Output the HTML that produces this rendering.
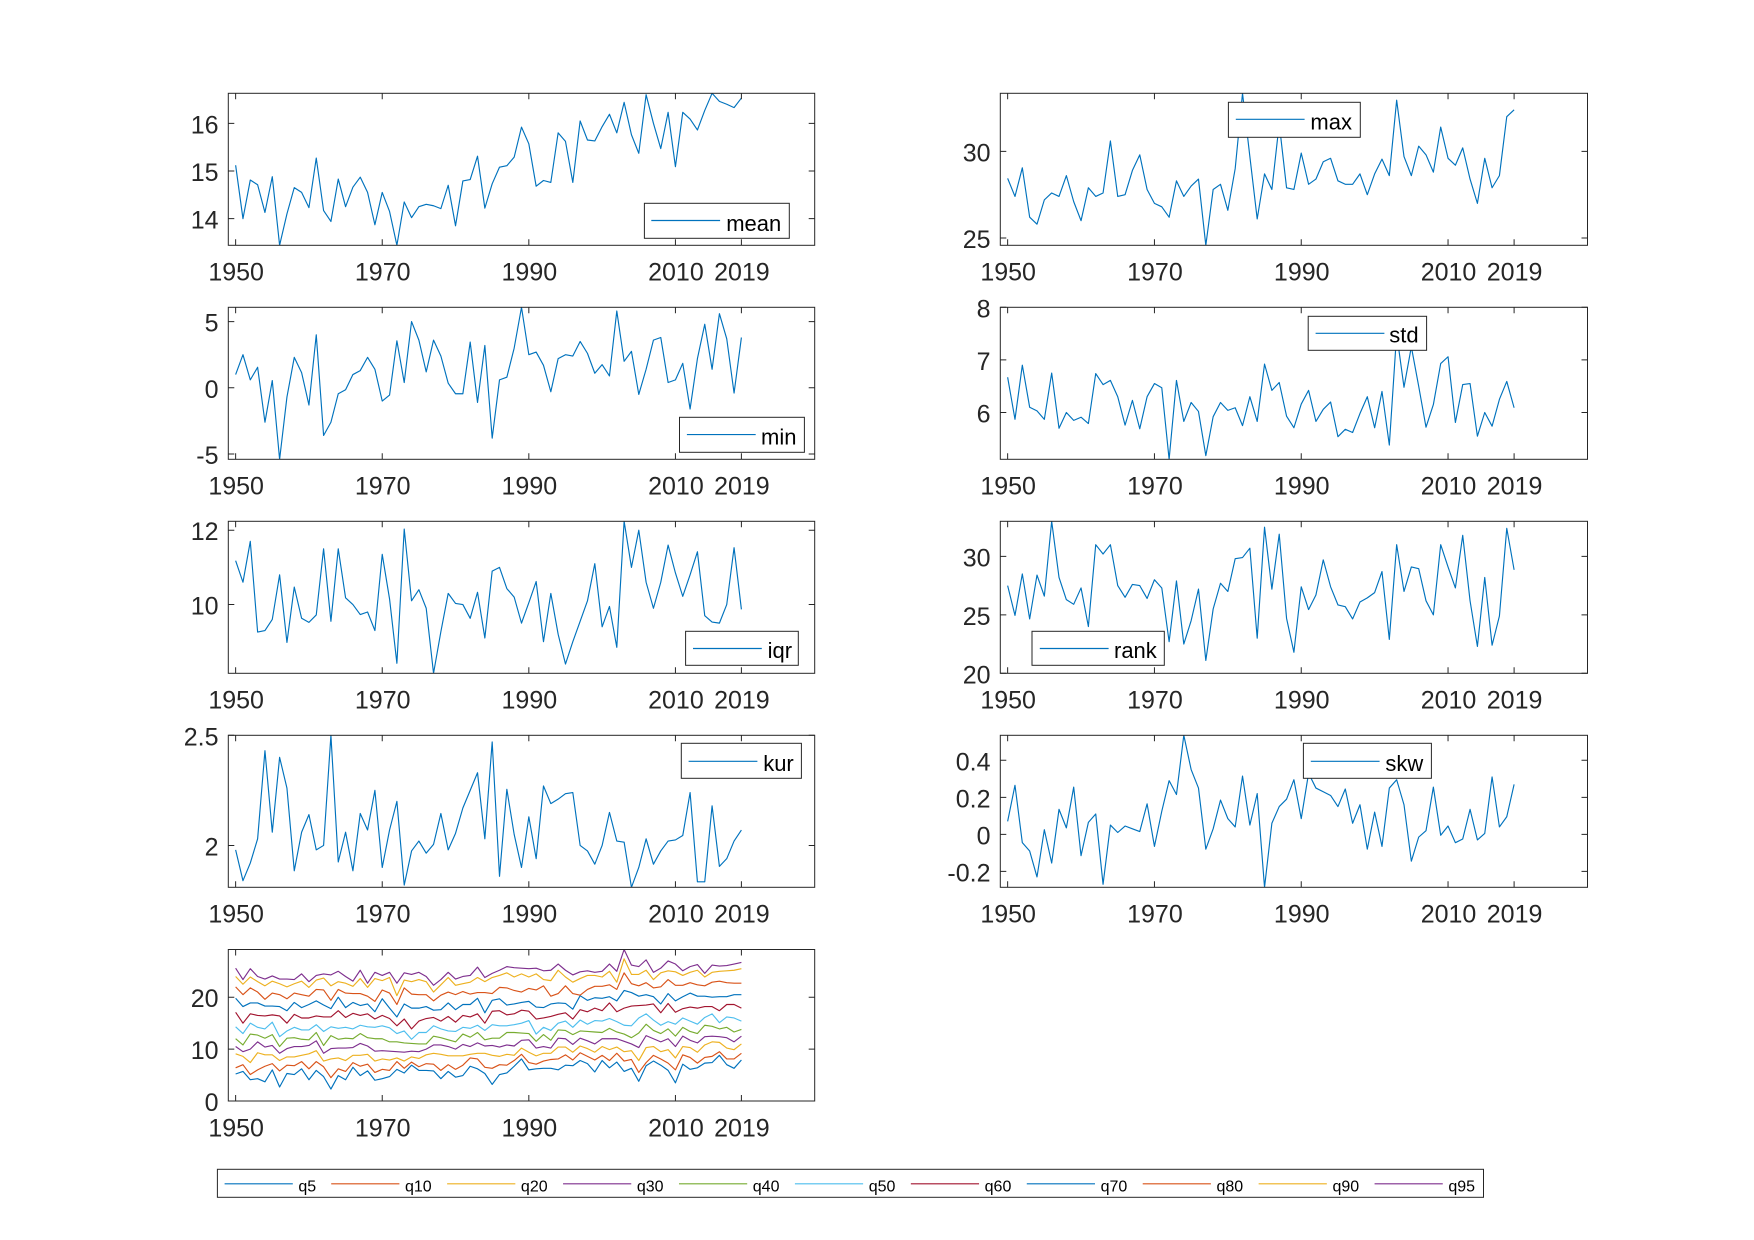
<!DOCTYPE html>
<html lang="en">
<head>
<meta charset="utf-8">
<title>Annual statistics 1950-2019</title>
<style>
html,body{margin:0;padding:0;background:#fff;}
svg{display:block;font-family:"Liberation Sans",Arial,sans-serif;}
</style>
</head>
<body>
<svg id="fig" xmlns="http://www.w3.org/2000/svg" width="1754" height="1240" viewBox="0 0 1754 1240">
<rect x="0" y="0" width="1754" height="1240" fill="#ffffff"/>
</svg>
<script>
const years = [1950,1951,1952,1953,1954,1955,1956,1957,1958,1959,
1960,1961,1962,1963,1964,1965,1966,1967,1968,1969,
1970,1971,1972,1973,1974,1975,1976,1977,1978,1979,
1980,1981,1982,1983,1984,1985,1986,1987,1988,1989,
1990,1991,1992,1993,1994,1995,1996,1997,1998,1999,
2000,2001,2002,2003,2004,2005,2006,2007,2008,2009,
2010,2011,2012,2013,2014,2015,2016,2017,2018,2019];
const xTickYears = [1950,1970,1990,2010,2019];

const meanValues = [15.12,14.0,14.81,14.71,14.13,14.88,13.44,14.1,14.65,14.55,
14.23,15.27,14.17,13.94,14.83,14.25,14.66,14.87,14.55,13.87,
14.55,14.15,13.44,14.35,14.02,14.25,14.3,14.27,14.21,14.7,
13.85,14.79,14.82,15.31,14.22,14.73,15.08,15.11,15.29,15.92,
15.57,14.68,14.8,14.76,15.8,15.62,14.76,16.05,15.65,15.63,
15.93,16.19,15.8,16.44,15.76,15.37,16.6,16.0,15.47,16.23,
15.09,16.23,16.09,15.86,16.27,16.63,16.46,16.4,16.33,16.53];
const maxValues = [28.44,27.4,29.05,26.2,25.8,27.2,27.6,27.4,28.6,27.1,
26.0,27.9,27.4,27.6,30.6,27.4,27.5,28.9,29.8,27.8,
27.0,26.8,26.2,28.3,27.4,28.0,28.4,24.58,27.8,28.1,
26.6,29.0,33.35,29.7,26.1,28.7,27.8,31.6,27.9,27.8,
29.9,28.1,28.4,29.4,29.6,28.3,28.1,28.1,28.7,27.5,
28.7,29.55,28.6,32.95,29.7,28.6,30.3,29.8,28.8,31.4,
29.6,29.2,30.2,28.4,27.0,29.6,27.9,28.6,32.0,32.4];
const minValues = [1.0,2.5,0.6,1.55,-2.6,0.55,-5.4,-0.7,2.3,1.15,
-1.3,4.0,-3.6,-2.6,-0.45,-0.15,1.0,1.3,2.3,1.4,
-1.0,-0.55,3.55,0.4,5.0,3.6,1.2,3.6,2.4,0.35,
-0.45,-0.45,3.45,-1.1,3.2,-3.8,0.6,0.8,3.0,6.08,
2.5,2.7,1.7,-0.3,2.2,2.5,2.4,3.5,2.6,1.1,
1.75,0.9,5.8,2.0,2.75,-0.5,1.4,3.6,3.8,0.4,
0.6,1.85,-1.6,2.2,4.8,1.4,5.6,3.7,-0.4,3.8];
const stdValues = [6.67,5.87,6.9,6.1,6.03,5.87,6.75,5.7,6.0,5.85,
5.91,5.79,6.74,6.53,6.61,6.3,5.76,6.23,5.69,6.3,
6.55,6.47,5.11,6.61,5.83,6.19,6.02,5.18,5.92,6.19,
6.04,6.09,5.75,6.3,5.83,6.92,6.42,6.57,5.93,5.71,
6.16,6.42,5.83,6.06,6.2,5.54,5.68,5.62,5.98,6.3,
5.71,6.4,5.38,7.5,6.48,7.25,6.5,5.72,6.15,6.93,
7.06,5.81,6.53,6.55,5.55,6.0,5.74,6.25,6.59,6.09];
const iqrValues = [11.18,10.6,11.7,9.26,9.3,9.6,10.8,8.98,10.47,9.63,
9.52,9.72,11.5,9.55,11.5,10.18,10.0,9.73,9.8,9.3,
11.35,10.15,8.42,12.03,10.1,10.4,9.9,8.15,9.27,10.3,
10.03,10.0,9.63,10.33,9.1,10.9,11.0,10.43,10.2,9.5,
10.05,10.62,9.0,10.3,9.2,8.4,9.0,9.55,10.1,11.1,
9.4,9.95,8.85,12.24,11.0,12.0,10.6,9.9,10.6,11.6,
10.85,10.22,10.8,11.42,9.7,9.53,9.5,10.0,11.53,9.87];
const rankValues = [27.5,24.95,28.5,24.65,28.4,26.6,33,28.2,26.3,25.9,
27.3,24.0,31,30.2,31,27.5,26.5,27.6,27.5,26.4,
28,27.3,22.7,27.9,22.5,24.5,27.2,21.1,25.5,27.7,
27.0,29.8,29.9,30.7,23,32.5,27.2,31.9,24.7,21.8,
27.4,25.45,26.7,29.7,27.4,25.85,25.7,24.65,26.1,26.45,
26.9,28.7,22.9,31,27.0,29.1,28.95,26.2,25.0,31,
29.1,27.3,31.8,26.2,22.3,28.2,22.4,24.9,32.4,28.85];
const kurValues = [1.98,1.84,1.92,2.03,2.43,2.06,2.40,2.26,1.885,2.06,
2.14,1.98,2.0,2.5,1.925,2.06,1.885,2.145,2.07,2.25,
1.9,2.07,2.2,1.82,1.975,2.02,1.965,2.005,2.145,1.98,
2.055,2.17,2.25,2.33,2.03,2.47,1.86,2.255,2.05,1.9,
2.13,1.94,2.27,2.19,2.21,2.235,2.24,2.0,1.975,1.915,
2.0,2.15,2.02,2.015,1.81,1.9,2.03,1.915,1.975,2.02,
2.025,2.045,2.24,1.835,1.835,2.18,1.905,1.94,2.02,2.07];
const skwValues = [0.07,0.265,-0.045,-0.09,-0.23,0.025,-0.155,0.135,0.035,0.255,
-0.115,0.065,0.11,-0.27,0.05,0.01,0.045,0.03,0.015,0.165,
-0.065,0.125,0.29,0.215,0.535,0.35,0.25,-0.08,0.03,0.185,
0.085,0.04,0.315,0.05,0.22,-0.286,0.06,0.15,0.19,0.295,
0.085,0.33,0.25,0.23,0.21,0.15,0.245,0.06,0.16,-0.08,
0.12,-0.065,0.25,0.295,0.16,-0.145,-0.015,0.02,0.255,-0.005,
0.045,-0.045,-0.025,0.135,-0.03,0.005,0.31,0.04,0.095,0.27];

const q5Values = [5.2,5.7,4.1,4.3,3.7,6.0,2.7,5.3,5.1,6.2,
4.1,5.9,4.7,2.3,4.9,4.1,6.5,4.9,5.8,4.0,
4.3,4.7,6.1,5.4,6.9,5.9,5.9,5.8,4.3,5.7,
4.6,4.9,6.7,6.2,5.3,3.2,5.1,5.4,6.7,8.1,
6.0,6.2,6.3,6.3,6.0,6.9,6.8,7.8,7.2,5.6,
7.8,6.4,7.5,5.7,6.3,3.8,6.8,7.7,6.9,5.9,
3.5,7.1,6.1,6.4,7.3,7.4,8.8,7.0,6.3,7.9];
const q10Values = [6.4,7.0,5.1,6.0,6.7,7.2,5.8,6.9,6.8,7.6,
6.2,7.6,6.6,4.5,6.2,5.7,7.4,6.7,7.1,5.5,
6.1,5.9,7.6,6.3,7.5,6.6,7.2,7.1,5.9,7.0,
6.1,6.9,8.3,8.1,6.5,6.3,7.0,6.9,7.8,9.0,
7.4,7.1,7.7,8.0,8.1,8.9,7.9,9.3,8.6,7.9,
8.8,7.8,9.2,7.7,8.0,5.5,7.4,8.8,8.1,7.3,
6.0,8.9,8.4,7.3,8.4,8.6,9.5,8.1,8.1,9.2];
const q20Values = [9.1,8.6,7.4,9.3,8.9,8.9,7.8,8.5,8.5,8.8,
9.1,9.7,7.7,8.1,8.3,7.8,8.8,8.8,9.0,7.7,
8.1,7.9,8.3,7.7,8.5,8.2,8.9,9.2,9.0,8.7,
8.7,8.7,9.0,9.2,9.2,8.8,8.6,9.0,8.8,10.2,
9.4,8.7,9.2,9.2,10.4,10.4,9.4,10.6,10.1,9.4,
10.5,9.9,10.4,9.5,9.7,7.8,10.3,10.5,9.5,9.9,
8.3,10.5,10.3,9.4,10.8,11.4,11.3,10.2,9.9,11.0];
const q30Values = [10.5,9.5,10.0,11.4,10.4,10.7,9.2,10.1,10.5,10.5,
10.7,11.6,9.2,10.1,10.2,10.2,10.3,11.1,10.6,9.6,
9.7,9.6,9.5,9.4,9.6,9.5,10.0,10.8,10.8,10.5,
10.0,10.9,10.5,11.2,10.6,10.7,10.4,10.8,10.6,11.7,
11.8,10.2,10.5,10.2,12.1,12.0,10.9,12.1,11.6,11.0,
12.0,12.0,12.0,11.5,11.0,10.3,12.6,12.0,11.4,12.0,
10.5,12.5,11.7,11.2,12.4,12.5,12.4,12.2,11.4,12.5];
const q40Values = [12.0,10.8,12.9,12.7,12.1,12.8,10.5,12.1,12.2,11.9,
11.8,13.2,10.7,12.6,11.9,12.1,12.0,13.0,12.2,12.0,
12.0,11.4,11.4,11.2,11.1,11.0,11.0,12.5,12.2,11.8,
11.4,12.9,12.3,13.2,11.8,12.1,12.1,13.2,13.2,13.1,
13.0,11.5,12.8,11.7,13.7,13.6,12.8,13.5,13.4,13.3,
13.2,14.0,13.3,12.9,12.2,13.1,14.8,13.6,13.0,13.9,
12.5,14.2,13.4,13.0,14.6,14.4,13.9,14.2,13.3,13.8];
const q50Values = [14.3,13.0,15.0,14.2,13.9,15.2,12.4,13.5,14.2,13.7,
13.7,14.7,13.4,14.3,14.0,14.2,13.9,14.6,14.3,14.2,
14.5,14.1,13.0,13.5,11.9,13.2,13.2,14.5,13.9,13.5,
13.4,14.2,14.0,14.6,13.6,14.7,14.5,14.5,14.7,15.0,
15.5,12.9,14.2,13.6,15.0,15.4,14.2,15.6,14.8,15.5,
15.4,15.9,15.3,14.6,14.5,16.0,16.8,15.6,14.6,15.3,
14.8,16.0,15.4,14.8,16.1,16.8,15.1,16.2,16.0,15.4];
const q60Values = [17.1,15.0,16.8,16.5,16.4,16.6,16.4,15.0,16.7,16.0,
16.0,16.4,16.2,16.2,17.4,16.1,16.9,16.5,16.8,15.8,
16.5,15.9,14.5,15.8,13.9,15.4,15.9,16.1,15.4,16.3,
15.2,16.5,16.2,16.8,15.0,17.3,17.4,16.6,16.8,17.5,
17.3,15.8,16.0,16.3,16.7,17.0,15.8,17.6,17.2,17.9,
17.4,18.9,17.2,17.9,18.3,18.4,18.5,18.7,17.0,18.8,
17.1,17.8,18.1,17.9,18.2,18.2,17.4,18.6,18.6,17.9];
const q70Values = [19.8,18.2,18.9,18.9,18.3,18.3,18.2,17.4,19.0,18.0,
18.6,19.3,18.5,17.8,20.0,18.0,19.0,18.4,18.7,17.2,
19.7,17.9,16.2,18.7,17.9,17.9,18.2,17.5,17.6,18.9,
17.6,18.6,18.6,19.8,17.0,19.4,19.7,18.5,18.7,19.0,
19.2,18.1,18.0,18.7,18.9,18.8,17.7,20.3,19.4,19.9,
19.8,20.1,19.3,21.3,20.9,20.2,20.5,20.1,18.7,20.7,
19.3,20.1,20.8,20.2,20.2,20.0,20.1,20.1,20.5,20.5];
const q80Values = [22.0,20.5,21.8,21.0,19.6,20.8,20.5,19.7,20.8,20.5,
20.2,21.5,21.4,19.4,21.5,20.8,20.7,20.7,20.2,19.2,
21.4,20.8,18.6,21.8,20.6,20.5,20.5,19.3,20.4,21.0,
20.5,21.1,20.6,20.9,20.9,20.7,21.9,21.8,21.3,21.0,
21.7,21.4,22.2,20.2,20.7,22.2,20.7,20.4,21.5,22.1,
22.1,22.4,21.5,24.7,22.6,22.2,22.8,21.8,22.0,23.4,
22.3,22.3,22.8,22.4,22.2,22.9,23.1,22.8,22.7,22.7];
const q90Values = [24.0,22.5,23.9,23.0,22.2,23.1,22.6,22.0,22.6,23.1,
21.9,23.3,23.7,22.2,23.0,22.7,22.1,23.6,21.9,23.6,
23.2,23.8,20.3,23.3,23.0,23.4,23.0,21.0,22.4,23.8,
22.3,22.6,22.9,23.8,23.0,23.8,24.2,24.7,23.9,24.5,
23.9,24.5,23.4,23.2,25.2,23.9,22.9,23.6,24.2,24.2,
23.9,25.0,22.9,27.4,24.4,24.4,25.2,23.4,24.7,25.1,
24.9,24.2,24.8,25.2,23.9,24.8,25.0,25.1,25.2,25.5];
const q95Values = [25.6,23.4,25.5,24.0,23.5,24.1,23.5,23.5,23.4,24.5,
23.0,24.2,24.5,24.3,25.0,24.0,23.1,25.2,22.7,24.8,
24.2,24.8,22.7,24.7,24.4,24.8,24.0,22.3,23.4,24.8,
23.5,24.0,24.2,25.8,23.8,24.6,25.2,25.9,25.7,25.6,
25.5,25.6,25.1,25.2,26.4,25.2,24.3,24.9,25.1,24.8,
25.0,26.4,25.0,29.2,26.2,25.9,27.2,24.8,25.6,27.0,
26.4,25.1,25.9,26.3,24.6,26.2,26.0,26.1,26.4,26.7];

const meanTicks = [14,15,16];
const maxTicks = [25,30];
const minTicks = [-5,0,5];
const stdTicks = [6,7,8];
const iqrTicks = [10,12];
const rankTicks = [20,25,30];
const kurTicks = [2,2.5];
const skwTicks = [-0.2,0,0.2,0.4];
const quantileTicks = [0,10,20];

const quantileNames = ['q5','q10','q20','q30','q40','q50','q60','q70','q80','q90','q95'];
const quantileSeries = [q5Values,q10Values,q20Values,q30Values,q40Values,q50Values,q60Values,q70Values,q80Values,q90Values,q95Values];
</script>
<script>
const NS = 'http://www.w3.org/2000/svg';
const fig = document.getElementById('fig');
const AXIS_COLOR = '#262626';
const PALETTE = ['#0072BD','#D95319','#EDB120','#7E2F8E','#77AC30','#4DBEEE','#A2142F'];
const X_DOMAIN = [1949,2029];
const COL_LEFT = [228.3,1000.3];
const COL_WIDTH = [586.4,587.2];
const ROW_TOP = [93.3,307.3,521.3,735.3,949.5];
const AXES_HEIGHT = 152;

function make(tag, attrs, parent, text) {
  const el = document.createElementNS(NS, tag);
  Object.keys(attrs).forEach(function (k) { el.setAttribute(k, attrs[k]); });
  if (text !== undefined) el.textContent = text;
  parent.appendChild(el);
  return el;
}
function xScale(year, left, width) {
  return left + (year - X_DOMAIN[0]) / (X_DOMAIN[1] - X_DOMAIN[0]) * width;
}
function yScale(value, top, height, lim) {
  return top + (lim[1] - value) / (lim[1] - lim[0]) * height;
}
function linePoints(values, box) {
  return values.map(function (v, i) {
    return xScale(years[i], box.left, box.width).toFixed(2) + ',' + yScale(v, box.top, box.height, box.lim).toFixed(2);
  }).join(' ');
}

function drawAxes(name, box, yTicks, seriesList, seriesNames) {
  const g = make('g', {}, fig);
  
  

  const clip = make('clipPath', {id: 'clip-' + name}, g);
  make('rect', {x: box.left, y: box.top, width: box.width, height: box.height}, clip);

  const plotBg = make('rect', {x: box.left, y: box.top, width: box.width, height: box.height, fill: '#fff'}, g);
  
  

  const lines = make('g', {'clip-path': 'url(#clip-' + name + ')'}, g);
  
  
  seriesList.forEach(function (values, i) {
    const line = make('polyline', {
      points: linePoints(values, box),
      fill: 'none',
      stroke: PALETTE[i % PALETTE.length],
      'stroke-width': 1.15,
      'stroke-linejoin': 'round'
    }, lines);
    
    
  });

  const tickLen = 6;
  const bottom = box.top + box.height;
  const right = box.left + box.width;
  xTickYears.forEach(function (year) {
    const x = xScale(year, box.left, box.width);
    const tick = make('path', {
      d: 'M' + x + ' ' + bottom + 'V' + (bottom - tickLen) + 'M' + x + ' ' + box.top + 'V' + (box.top + tickLen),
      stroke: AXIS_COLOR, 'stroke-width': 1, fill: 'none'
    }, g);
    
    
    const label = make('text', {x: x + 0.5, y: bottom + 35.4, 'text-anchor': 'middle', 'font-size': 25, fill: AXIS_COLOR}, g, String(year));
    
    
  });
  yTicks.forEach(function (t) {
    const y = yScale(t, box.top, box.height, box.lim);
    const tick = make('path', {
      d: 'M' + box.left + ' ' + y + 'H' + (box.left + tickLen) + 'M' + right + ' ' + y + 'H' + (right - tickLen),
      stroke: AXIS_COLOR, 'stroke-width': 1, fill: 'none'
    }, g);
    
    
    const label = make('text', {x: box.left - 9.8, y: y + 10, 'text-anchor': 'end', 'font-size': 25, fill: AXIS_COLOR}, g, String(t));
    
    
  });

  const frame = make('rect', {x: box.left, y: box.top, width: box.width, height: box.height, fill: 'none', stroke: AXIS_COLOR, 'stroke-width': 1}, g);
  
  
}

function drawLegend(label, b) {
  const g = make('g', {}, fig);
  
  
  const box = make('rect', {x: b.x0, y: b.y0, width: b.x1 - b.x0, height: b.y1 - b.y0, fill: '#fff', stroke: AXIS_COLOR, 'stroke-width': 1}, g);
  
  
  const swatch = make('line', {x1: b.lx0, x2: b.lx0 + 68.8, y1: b.ly, y2: b.ly, stroke: PALETTE[0], 'stroke-width': 1.15}, g);
  
  
  const txt = make('text', {x: b.tx, y: b.ty, 'font-size': 22, fill: '#000'}, g, label);
  
  
}

const panels = [
  {name:'mean', values:meanValues, ticks:meanTicks, col:0, row:0, lim:[13.44,16.63], legend:{x0:644.4,x1:789.3,y0:203.3,y1:238.3,lx0:651.3,ly:220.5,tx:726.2,ty:230.8}},
  {name:'max',  values:maxValues,  ticks:maxTicks,  col:1, row:0, lim:[24.58,33.35], legend:{x0:1228.4,x1:1360.3,y0:102.3,y1:137.3,lx0:1235.8,ly:119.3,tx:1310.4,ty:129.4}},
  {name:'min',  values:minValues,  ticks:minTicks,  col:0, row:1, lim:[-5.4,6.08],   legend:{x0:679.5,x1:804.4,y0:417.3,y1:452.3,lx0:686.9,ly:434.6,tx:761,ty:444.4}},
  {name:'std',  values:stdValues,  ticks:stdTicks,  col:1, row:1, lim:[5.11,8],      legend:{x0:1308.2,x1:1426.6,y0:316.3,y1:350.3,lx0:1315.6,ly:333.3,tx:1389.3,ty:342.5}},
  {name:'iqr',  values:iqrValues,  ticks:iqrTicks,  col:0, row:2, lim:[8.15,12.24],  legend:{x0:685.6,x1:798.3,y0:631.3,y1:665.3,lx0:693,ly:648.5,tx:767.6,ty:658}},
  {name:'rank', values:rankValues, ticks:rankTicks, col:1, row:2, lim:[20,33],       legend:{x0:1032,x1:1164.3,y0:631.3,y1:665.3,lx0:1039.8,ly:648.5,tx:1114,ty:658}},
  {name:'kur',  values:kurValues,  ticks:kurTicks,  col:0, row:3, lim:[1.81,2.5],    legend:{x0:681.3,x1:801.4,y0:743.3,y1:778.3,lx0:688.6,ly:761.3,tx:763.2,ty:770.8}},
  {name:'skw',  values:skwValues,  ticks:skwTicks,  col:1, row:3, lim:[-0.286,0.535],legend:{x0:1303.4,x1:1431.4,y0:743.3,y1:778.3,lx0:1310.8,ly:761.3,tx:1385.4,ty:770.8}}
];

panels.forEach(function (p) {
  const box = {left: COL_LEFT[p.col], width: COL_WIDTH[p.col], top: ROW_TOP[p.row], height: AXES_HEIGHT, lim: p.lim};
  drawAxes(p.name, box, p.ticks, [p.values], [p.name]);
});

drawAxes('quantile', {left: COL_LEFT[0], width: COL_WIDTH[0], top: ROW_TOP[4], height: 151.5, lim: [0,29.2]}, quantileTicks, quantileSeries, quantileNames);

panels.forEach(function (p) { drawLegend(p.name, p.legend); });

(function drawQuantileLegend() {
  const g = make('g', {}, fig);
  
  
  const box = make('rect', {x: 217.4, y: 1169.3, width: 1266.1, height: 28, fill: '#fff', stroke: AXIS_COLOR, 'stroke-width': 1}, g);
  
  
  const firstX = 224.6;
  const secondX = 331.2;
  const step = 115.93;
  quantileNames.forEach(function (label, i) {
    const x = i === 0 ? firstX : secondX + step * (i - 1);
    const swatch = make('line', {x1: x, x2: x + 68.2, y1: 1183.8, y2: 1183.8, stroke: PALETTE[i % PALETTE.length], 'stroke-width': 1.15}, g);
    
    
    const txt = make('text', {x: x + 73.8, y: 1191.3, 'font-size': 16, fill: '#000'}, g, label);
    
    
  });
})();
</script>
</body>
</html>
